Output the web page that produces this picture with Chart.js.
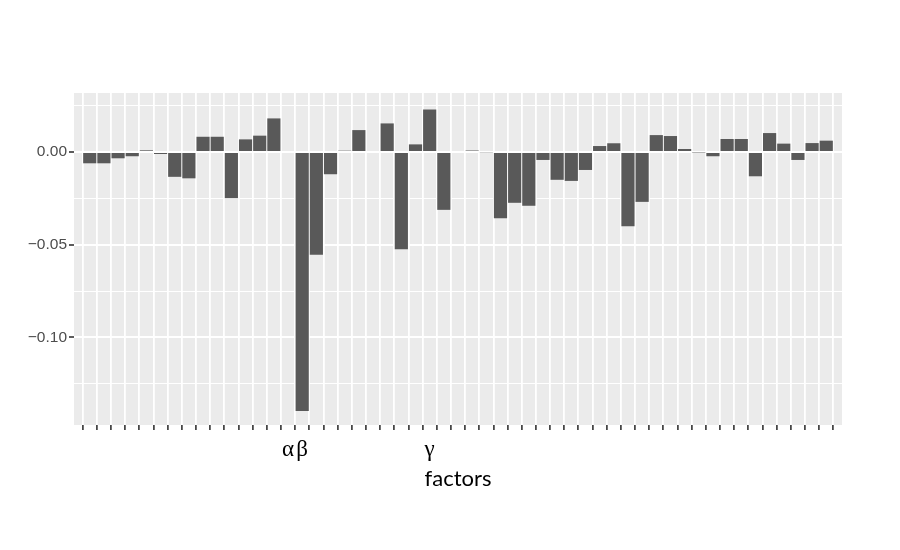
<!DOCTYPE html>
<html>
<head>
<meta charset="utf-8">
<script src="https://cdn.jsdelivr.net/npm/chart.js@4.4.1/dist/chart.umd.min.js"></script>
<style>
  html, body { margin: 0; padding: 0; background: #ffffff; }
  canvas { display: block; }
</style>
</head>
<body>
<canvas id="c" width="900" height="550"></canvas>
<script>
// ---- data ----
const factorLabels = [
  '', '', '', '', '', '', '', '', '', '',
  '', '', '', '', 'α', 'β', '', '', '', '',
  '', '', '', '', 'γ', '', '', '', '', '',
  '', '', '', '', '', '', '', '', '', '',
  '', '', '', '', '', '', '', '', '', '',
  '', '', ''
];
const values = [
  -0.0061, -0.0061, -0.0034, -0.0023, 0.0009, -0.0011, -0.0134, -0.0142, 0.0082, 0.0082,
  -0.0249, 0.0068, 0.0088, 0.0181, 0.0000, -0.1396, -0.0554, -0.0120, 0.0007, 0.0118,
  0.0000, 0.0154, -0.0525, 0.0041, 0.0229, -0.0312, 0.0000, 0.0008, -0.0004, -0.0357,
  -0.0274, -0.0290, -0.0043, -0.0150, -0.0156, -0.0097, 0.0032, 0.0047, -0.0401, -0.0269,
  0.0091, 0.0086, 0.0016, -0.0003, -0.0023, 0.0070, 0.0070, -0.0131, 0.0102, 0.0045,
  -0.0043, 0.0048, 0.0061
];
const yTickValues = [-0.125, -0.10, -0.075, -0.05, -0.025, 0.00, 0.025];
const yMajorLabels = { '-0.1': '\u22120.10', '-0.05': '\u22120.05', '0': '0.00' };
const xTitle = 'factors';

// ---- helpers ----
const isMajor = v => Math.abs(v / 0.05 - Math.round(v / 0.05)) < 1e-6;

const panelBg = {
  id: 'panelBg',
  beforeDraw(chart) {
    const { ctx, chartArea: a } = chart;
    ctx.save();
    ctx.fillStyle = '#EBEBEB';
    ctx.fillRect(a.left, a.top, a.right - a.left, a.bottom - a.top);
    ctx.restore();
  }
};

new Chart(document.getElementById('c'), {
  type: 'bar',
  data: {
    datasets: [{
      data: values.map((v, i) => ({ x: i, y: v })),
      backgroundColor: '#595959',
      borderWidth: 0,
      barPercentage: 0.93,
      categoryPercentage: 1.0
    }]
  },
  plugins: [panelBg],
  options: {
    responsive: false,
    animation: false,
    events: [],
    layout: { padding: { left: 0, top: 93, right: 58, bottom: 0 } },
    plugins: { legend: { display: false }, tooltip: { enabled: false } },
    scales: {
      x: {
        type: 'linear',
        min: -0.6,
        max: factorLabels.length - 1 + 0.6,
        afterBuildTicks(scale) {
          scale.ticks = factorLabels.map((_, i) => ({ value: i }));
        },
        afterFit(scale) { scale.height = 125; },
        border: { display: false },
        grid: {
          color: '#FFFFFF',
          lineWidth: 1.8,
          drawTicks: true,
          tickLength: 5,
          tickColor: '#333333',
          tickWidth: 1.6
        },
        ticks: {
          autoSkip: false,
          maxRotation: 0,
          minRotation: 0,
          padding: 6,
          color: '#000000',
          font: { family: '"Liberation Serif", "DejaVu Serif", serif', size: 23 },
          callback: v => factorLabels[v] ?? ''
        },
        title: {
          display: true,
          text: xTitle,
          color: '#000000',
          font: { family: 'Lato, "Noto Sans", sans-serif', size: 22 },
          padding: { top: 0, bottom: 58 }
        }
      },
      y: {
        type: 'linear',
        min: -0.1472,
        max: 0.0318,
        afterBuildTicks(scale) {
          scale.ticks = yTickValues.map(v => ({ value: v }));
        },
        afterFit(scale) { scale.width = 74; },
        border: { display: false },
        grid: {
          color: '#FFFFFF',
          lineWidth: ctx => isMajor(ctx.tick.value) ? 2 : 1,
          drawTicks: true,
          tickLength: 5,
          tickColor: ctx => isMajor(ctx.tick.value) ? '#333333' : 'rgba(0,0,0,0)',
          tickWidth: 1.6
        },
        ticks: {
          padding: 2,
          color: '#4D4D4D',
          font: { family: '"Liberation Sans", Arial, sans-serif', size: 15.5 },
          callback: v => {
            if (!isMajor(v)) return '';
            const k = String(Math.round(v * 100) / 100);
            return yMajorLabels[k] ?? '';
          }
        }
      }
    }
  }
});
</script>
</body>
</html>
